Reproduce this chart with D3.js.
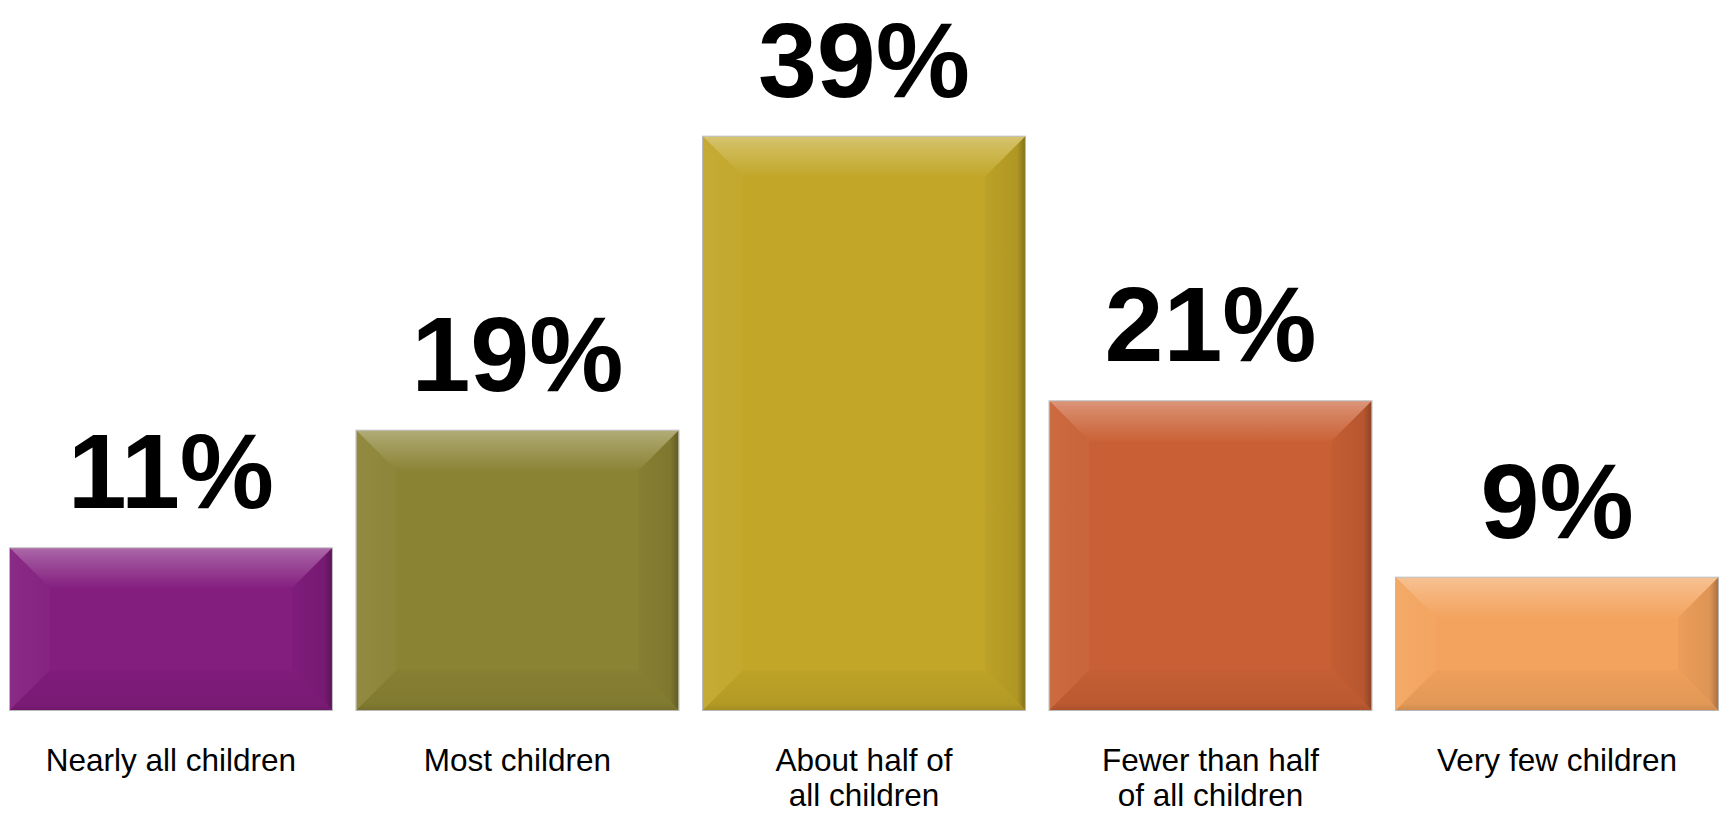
<!DOCTYPE html>
<html>
<head>
<meta charset="utf-8">
<script src="https://cdn.jsdelivr.net/npm/d3@7"></script>
<style>
  html, body { margin: 0; padding: 0; background: #fff; overflow: hidden; }
  svg { display: block; }
</style>
</head>
<body>
<svg id="chart" width="1721" height="813"></svg>
<script>
const categories = ["Nearly all children", "Most children", "About half of\nall children", "Fewer than half\nof all children", "Very few children"];
const values = [11, 19, 39, 21, 9];
const colors = ["#831d7e", "#8a8334", "#c1a628", "#c96035", "#f3a35d"];

const W = 1721, H = 813;
const svg = d3.select("#chart");
const defs = svg.append("defs");

const x = d3.scaleBand().domain(categories).range([10, 1718]).paddingInner(0.071).paddingOuter(0);
const y = d3.scaleLinear().domain([0, 40]).range([710, 122]);

const bev = 40;
const mix = (c, t, a) => d3.interpolateRgb(c, t)(a);

categories.forEach((c, i) => {
  const base = colors[i];
  const gTop = defs.append("linearGradient").attr("id", "gt" + i).attr("x1", 0).attr("y1", 0).attr("x2", 0).attr("y2", 1);
  gTop.append("stop").attr("offset", 0).attr("stop-color", mix(base, "#fff", 0.33));
  gTop.append("stop").attr("offset", 0.3).attr("stop-color", mix(base, "#fff", 0.22));
  gTop.append("stop").attr("offset", 1).attr("stop-color", mix(base, "#fff", 0.01));
  const gL = defs.append("linearGradient").attr("id", "gl" + i).attr("x1", 0).attr("y1", 0).attr("x2", 1).attr("y2", 0);
  gL.append("stop").attr("offset", 0).attr("stop-color", mix(base, "#fff", 0.06));
  gL.append("stop").attr("offset", 1).attr("stop-color", mix(base, "#fff", 0.025));
  const gR = defs.append("linearGradient").attr("id", "gr" + i).attr("x1", 0).attr("y1", 0).attr("x2", 1).attr("y2", 0);
  gR.append("stop").attr("offset", 0).attr("stop-color", mix(base, "#000", 0.03));
  gR.append("stop").attr("offset", 0.8).attr("stop-color", mix(base, "#000", 0.09));
  gR.append("stop").attr("offset", 1).attr("stop-color", mix(base, "#000", 0.3));
  const gB = defs.append("linearGradient").attr("id", "gb" + i).attr("x1", 0).attr("y1", 0).attr("x2", 0).attr("y2", 1);
  gB.append("stop").attr("offset", 0).attr("stop-color", mix(base, "#000", 0.02));
  gB.append("stop").attr("offset", 0.85).attr("stop-color", mix(base, "#000", 0.07));
  gB.append("stop").attr("offset", 1).attr("stop-color", mix(base, "#000", 0.15));
});

const bars = svg.append("g").selectAll("g").data(categories).join("g");

bars.each(function(c, i) {
  const g = d3.select(this);
  const x0 = x(c), x1 = x(c) + x.bandwidth();
  const y0 = y(values[i]), y1 = y(0);
  const b = Math.min(bev, (y1 - y0) / 2);
  g.append("rect").attr("x", x0).attr("y", y0).attr("width", x1 - x0).attr("height", y1 - y0).attr("fill", colors[i]);
  const poly = (pts, fill) => g.append("path").attr("d", "M" + pts.map(p => p.join(",")).join("L") + "Z").attr("fill", fill);
  poly([[x0, y0], [x1, y0], [x1 - b, y0 + b], [x0 + b, y0 + b]], `url(#gt${i})`);
  poly([[x0, y0], [x0 + b, y0 + b], [x0 + b, y1 - b], [x0, y1]], `url(#gl${i})`);
  poly([[x1, y0], [x1, y1], [x1 - b, y1 - b], [x1 - b, y0 + b]], `url(#gr${i})`);
  poly([[x0, y1], [x0 + b, y1 - b], [x1 - b, y1 - b], [x1, y1]], `url(#gb${i})`);
  g.append("rect").attr("x", x0 - 0.5).attr("y", y0 - 0.5).attr("width", x1 - x0 + 1).attr("height", y1 - y0 + 1)
    .attr("fill", "none").attr("stroke", "#b8b8b8").attr("stroke-width", 1);
});

// value labels
svg.append("g").selectAll("text").data(categories).join("text")
  .attr("x", d => x(d) + x.bandwidth() / 2)
  .attr("y", (d, i) => y(values[i]) - 40)
  .attr("text-anchor", "middle")
  .attr("font-family", "'Liberation Sans', Arial, sans-serif")
  .attr("font-weight", "bold")
  .attr("font-size", 106)
  .attr("fill", "#000")
  .text((d, i) => values[i] + "%");

// category labels
const cl = svg.append("g").selectAll("text").data(categories).join("text")
  .attr("x", d => x(d) + x.bandwidth() / 2)
  .attr("y", 771)
  .attr("text-anchor", "middle")
  .attr("font-family", "'Liberation Sans', Arial, sans-serif")
  .attr("font-size", 31.5)
  .attr("fill", "#000");
cl.each(function(d) {
  const t = d3.select(this);
  d.split("\n").forEach((line, k) => {
    t.append("tspan").attr("x", x(d) + x.bandwidth() / 2).attr("dy", k === 0 ? 0 : 35).text(line);
  });
});
</script>
</body>
</html>
